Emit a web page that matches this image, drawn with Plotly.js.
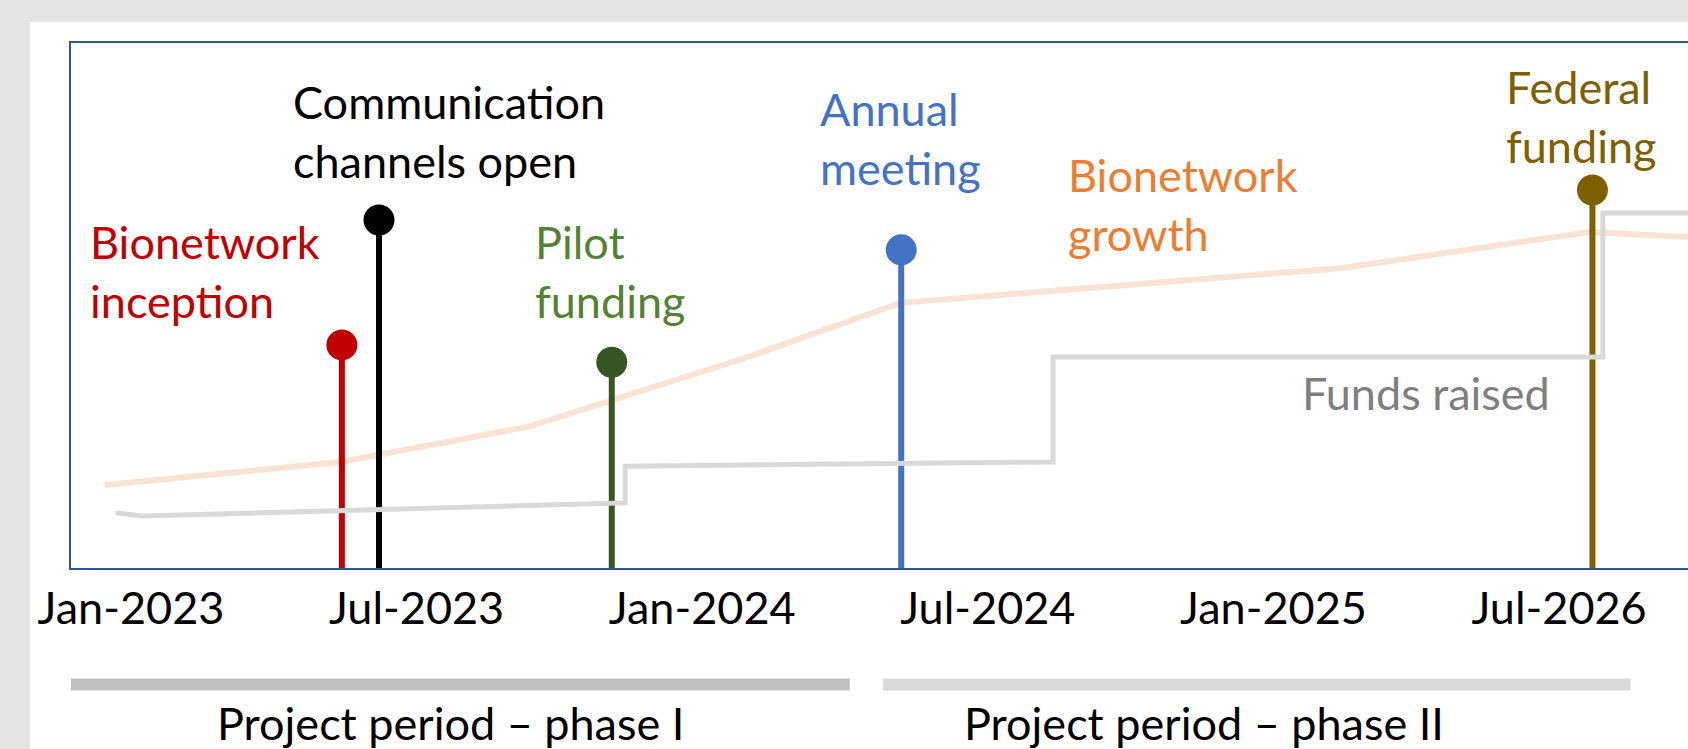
<!DOCTYPE html>
<html>
<head>
<meta charset="utf-8">
<script src="https://cdn.plot.ly/plotly-3.0.1.min.js"></script>
<style>
  html, body { margin: 0; padding: 0; width: 1688px; height: 749px; overflow: hidden; background: #E4E4E2; }
  #chart { position: absolute; left: 30px; top: 22px; width: 1760px; height: 727px; }
</style>
</head>
<body>
<div id="chart"></div>
<script>
// ---- data (x in months from Jan-2023 on the chart's even tick scale; y in relative units 0-100) ----
const tickMonths = [0, 6, 12, 18, 24, 30];
const tickLabels = ["Jan-2023", "Jul-2023", "Jan-2024", "Jul-2024", "Jan-2025", "Jul-2026"];

const eventNames  = ["Bionetwork<br>inception", "Communication<br>channels open", "Pilot<br>funding", "Annual<br>meeting", "Federal<br>funding"];
const eventMonths = [4.43, 5.21, 10.1, 16.18, 30.7];
const eventHeights = [42.5, 66.3, 39.2, 60.6, 72.0];

const growthName   = "Bionetwork<br>growth";
const growthMonths = [-0.55, 4.39, 8.34, 12.9, 16.16, 25.4, 30.65, 33.4];
const growthValues = [15.8, 20.2, 26.9, 40.0, 50.5, 57.1, 64.0, 62.7];

const fundsName   = "Funds raised";
const fundsMonths = [-0.32, 0.23, 10.38, 10.38, 19.37, 19.37, 30.92, 30.92, 33.4];
const fundsValues = [10.5, 9.9, 12.4, 19.4, 20.2, 40.2, 40.2, 67.6, 67.6];

const phaseNames = ["Project period \u2013 phase I", "Project period \u2013 phase II"];
const phaseStart = [-1.26, 15.8];
const phaseEnd   = [15.1, 31.5];

// ---- styles / label placement ----
const FONT = "Lato, 'Open Sans', sans-serif";
const FS = 45;
const eventColors = ["#C00000", "#000000", "#375623", "#4472C4", "#7F6000"];
const eventTextColors = ["#C00000", "#000000", "#548235", "#4472C4", "#7F6000"];
const eventLabelPos = [[-0.90, 56.4], [3.36, 83.2], [8.45, 56.5], [14.43, 81.9], [28.84, 86.0]];
const growthLabelPos = [19.64, 69.3];
const fundsLabelPos = [24.56, 33.3];
const phaseColors = ["#BFBFBF", "#D9D9D9"];
const phaseBarY = -0.222;
const phaseLabelY = -0.296;

const traces = [];
traces.push({
  x: growthMonths, y: growthValues, type: "scatter", mode: "lines",
  line: { color: "#FAE3D4", width: 6 }, hoverinfo: "skip"
});
eventMonths.forEach((m, i) => {
  traces.push({
    x: [m, m], y: [0, eventHeights[i]], type: "scatter", mode: "lines+markers",
    line: { color: eventColors[i], width: 6 },
    marker: { size: [0, 31], color: eventColors[i], opacity: 1, line: { width: 0 } },
    hoverinfo: "skip"
  });
});
traces.push({
  x: fundsMonths, y: fundsValues, type: "scatter", mode: "lines",
  line: { color: "#D9D9D9", width: 5 }, hoverinfo: "skip"
});

const annotations = [];
eventNames.forEach((n, i) => {
  annotations.push({
    x: eventLabelPos[i][0], y: eventLabelPos[i][1], xref: "x", yref: "y",
    text: n, showarrow: false, xanchor: "left", yanchor: "middle", align: "left",
    font: { family: FONT, size: FS, color: eventTextColors[i] }
  });
});
annotations.push({
  x: growthLabelPos[0], y: growthLabelPos[1], xref: "x", yref: "y",
  text: growthName, showarrow: false, xanchor: "left", yanchor: "middle", align: "left",
  font: { family: FONT, size: FS, color: "#ED7D31" }
});
annotations.push({
  x: fundsLabelPos[0], y: fundsLabelPos[1], xref: "x", yref: "y",
  text: fundsName, showarrow: false, xanchor: "left", yanchor: "middle", align: "left",
  font: { family: FONT, size: FS, color: "#7F7F7F" }
});
const shapes = [];
phaseNames.forEach((n, i) => {
  shapes.push({
    type: "line", xref: "x", yref: "paper",
    x0: phaseStart[i], x1: phaseEnd[i], y0: phaseBarY, y1: phaseBarY,
    line: { color: phaseColors[i], width: 12 }
  });
});
const phaseLabelX = [6.72, 22.54];
phaseNames.forEach((n, i) => {
  annotations.push({
    x: phaseLabelX[i], y: phaseLabelY, xref: "x", yref: "paper",
    text: n, showarrow: false, xanchor: "center", yanchor: "middle",
    font: { family: FONT, size: FS, color: "#000000" }
  });
});

const layout = {
  width: 1760, height: 727,
  margin: { l: 41, r: 70, t: 21, b: 181 },
  paper_bgcolor: "#FFFFFF", plot_bgcolor: "#FFFFFF",
  showlegend: false,
  xaxis: {
    range: [-1.26, 33.38], showgrid: false, zeroline: false,
    tickmode: "array", tickvals: tickMonths, ticktext: tickLabels,
    ticks: "", ticklabelstandoff: 0,
    tickfont: { family: FONT, size: FS, color: "#000000" },
    showline: true, mirror: true, linecolor: "#2F5597", linewidth: 2
  },
  yaxis: {
    range: [0, 100], showgrid: false, zeroline: false, showticklabels: false, ticks: "",
    showline: true, mirror: true, linecolor: "#2F5597", linewidth: 2
  },
  shapes: shapes,
  annotations: annotations
};

Plotly.newPlot("chart", traces, layout, { staticPlot: true, displayModeBar: false });
</script>
</body>
</html>
